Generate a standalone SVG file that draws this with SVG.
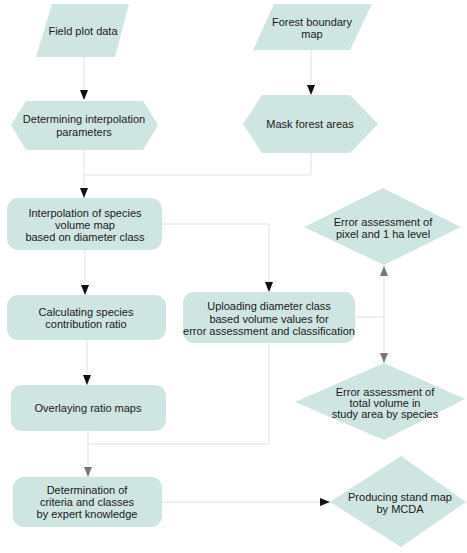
<svg xmlns="http://www.w3.org/2000/svg" width="467" height="553" viewBox="0 0 467 553">
<style>
.n{fill:#cfe5e2;stroke:none}
.t{font-family:"Liberation Sans",Arial,sans-serif;font-size:11px;fill:#1a1a1a;text-anchor:middle}
.c{fill:none;stroke:#e2e2e2;stroke-width:1}
</style>
<defs>
<marker id="ab" viewBox="0 0 10 10" refX="10" refY="5" markerWidth="10" markerHeight="10" markerUnits="userSpaceOnUse" orient="auto"><path d="M0,1 L10,5 L0,9 Z" fill="#111"/></marker>
<marker id="ag" viewBox="0 0 10 10" refX="10" refY="5" markerWidth="10" markerHeight="10" markerUnits="userSpaceOnUse" orient="auto"><path d="M0,1 L10,5 L0,9 Z" fill="#7a7a7a"/></marker>
</defs>
<rect width="467" height="553" fill="#fff"/>
<g id="connectors">
<path class="c" d="M84,57 V100" marker-end="url(#ab)"/>
<path class="c" d="M311,50 V95" marker-end="url(#ab)"/>
<path class="c" d="M84,150 V198" marker-end="url(#ab)"/>
<path class="c" d="M311,153 V175 H84"/>
<path class="c" d="M85,250 V295" marker-end="url(#ab)"/>
<path class="c" d="M162,224 H269 V292" marker-end="url(#ab)"/>
<path class="c" d="M87,340 V385" marker-end="url(#ab)"/>
<path class="c" d="M88,431 V477" marker-end="url(#ag)"/>
<path class="c" d="M269,343 V444 H88"/>
<path class="c" d="M355,317 H384"/>
<path class="c" d="M384,317 V266" marker-end="url(#ag)"/>
<path class="c" d="M384,317 V363" marker-end="url(#ag)"/>
<path class="c" d="M162,502 H330" marker-end="url(#ab)"/>
</g>
<g id="n1">
<polygon class="n" points="52,4 129,4 115,57 36,57"/>
<text class="t" x="83" y="35">Field plot data</text>
</g>
<g id="n2">
<polygon class="n" points="274,4 372,4 350,50 253,50"/>
<text class="t" x="312" y="26">Forest boundary</text>
<text class="t" x="312" y="38">map</text>
</g>
<g id="n3">
<polygon class="n" points="26,101 143,101 158,125 143,150 26,150 11,125"/>
<text class="t" x="84" y="123">Determining interpolation</text>
<text class="t" x="84" y="136">parameters</text>
</g>
<g id="n4">
<polygon class="n" points="262,95 350,95 378,124 350,153 262,153 243,124"/>
<text class="t" x="310" y="128">Mask forest areas</text>
</g>
<g id="n5">
<rect class="n" x="7" y="198" width="155" height="52" rx="11"/>
<text class="t" x="85" y="217">Interpolation of species</text>
<text class="t" x="85" y="229">volume map</text>
<text class="t" x="85" y="241">based on diameter class</text>
</g>
<g id="n6">
<rect class="n" x="7" y="295" width="159" height="45" rx="11"/>
<text class="t" x="86" y="316">Calculating species</text>
<text class="t" x="86" y="328">contribution ratio</text>
</g>
<g id="n7">
<rect class="n" x="183" y="292" width="172" height="51" rx="11"/>
<text class="t" x="269" y="310">Uploading diameter class</text>
<text class="t" x="269" y="323">based volume values for</text>
<text class="t" x="269" y="335">error assessment and classification</text>
</g>
<g id="n8">
<polygon class="n" points="383,188 461,227 384,265 304,227"/>
<text class="t" x="383" y="226">Error assessment of</text>
<text class="t" x="383" y="238">pixel and 1 ha level</text>
</g>
<g id="n9">
<polygon class="n" points="384,363 465,399 384,440 295,402"/>
<text class="t" x="385" y="396">Error assessment of</text>
<text class="t" x="385" y="407">total volume in</text>
<text class="t" x="385" y="418">study area by species</text>
</g>
<g id="n10">
<rect class="n" x="11" y="385" width="155" height="46" rx="11"/>
<text class="t" x="88" y="412">Overlaying ratio maps</text>
</g>
<g id="n11">
<rect class="n" x="13" y="477" width="149" height="50" rx="11"/>
<text class="t" x="87" y="494">Determination of</text>
<text class="t" x="87" y="506">criteria and classes</text>
<text class="t" x="87" y="518">by expert knowledge</text>
</g>
<g id="n12">
<polygon class="n" points="401,456 466,502 401,547 330,502"/>
<text class="t" x="400" y="501">Producing stand map</text>
<text class="t" x="400" y="513">by MCDA</text>
</g>
</svg>
